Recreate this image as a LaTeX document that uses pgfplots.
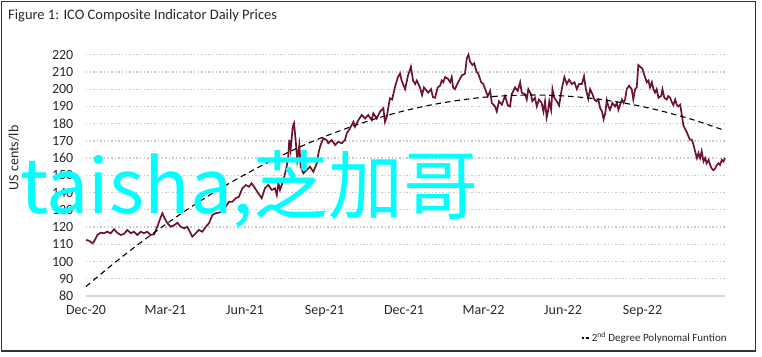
\documentclass[border=0pt]{standalone}
\usepackage{pgfplots}
\pgfplotsset{compat=1.18}
\usepackage{fontspec}
\setmainfont{Carlito}
\newfontfamily\cjk{Noto Sans CJK SC}
\definecolor{coffee}{RGB}{110,18,45}
\definecolor{gridc}{RGB}{200,200,200}
\definecolor{axc}{RGB}{215,215,215}
\definecolor{txt}{RGB}{40,40,40}
\definecolor{wmark}{RGB}{0,255,255}
\begin{document}
\begin{tikzpicture}[x=1pt,y=1pt]
\useasboundingbox (0,0) rectangle (762,356);
\draw[line width=1.5pt, black!80] (1.5,5) rectangle (755.5,354.5);
\node[anchor=base west, inner sep=0pt, text=txt, font=\fontsize{14.5}{17}\selectfont] at (8,336.5) {Figure 1: ICO Composite Indicator Daily Prices};
\begin{axis}[
  at={(86pt,60pt)}, anchor=south west,
  scale only axis, width=639pt, height=241.3pt,
  xmin=0, xmax=24.11, ymin=80, ymax=220,
  clip=false,
  separate axis lines,
  axis x line*=bottom, axis y line*=left,
  x axis line style={draw=axc, line width=1.5pt, -},
  y axis line style={draw=none},
  xtick={0,3,6,9,12,15,18,21},
  xticklabels={Dec-20,Mar-21,Jun-21,Sep-21,Dec-21,Mar-22,Jun-22,Sep-22},
  ytick={80,90,...,220},
  major tick length=0pt,
  ymajorgrids,
  grid style={draw=gridc, line width=1.3pt, dash pattern=on 1.4pt off 2.2pt},
  /pgf/number format/assume math mode=true,
  tick label style={font=\fontsize{14}{16}\selectfont, text=txt},
  yticklabel style={inner sep=0pt, anchor=east, xshift=-12.5pt},
  xticklabel style={inner sep=0pt, anchor=north, yshift=-9.5pt},
  ylabel={US cents/lb},
  ylabel style={at={(axis description cs:-0.113,0.572)}, anchor=center, font=\fontsize{14}{16}\selectfont, text=txt, inner sep=0pt},
  legend style={at={(axis description cs:1.006,-0.174)}, anchor=east, draw=none, fill=none, inner sep=0pt, font=\fontsize{11}{13}\selectfont, text=txt},
  legend cell align=left,
  legend image code/.code={\draw[black, line width=1.3pt, dash pattern=on 2.6pt off 2pt] (0pt,0pt) -- (7.5pt,0pt);},
]
\addplot[color=coffee, line width=1.7pt, forget plot] coordinates {
(0,112.5)(0.11,112.1)(0.24,110.6)(0.30,111.5)(0.43,115.4)(0.55,116.7)(0.68,116.4)(0.80,117.3)(0.93,116.4)(1.06,118.7)(1.18,116.7)(1.31,115.4)(1.43,116)(1.56,118.3)(1.69,116.4)(1.81,117.3)(1.94,115.4)(2.06,117.3)(2.19,116.4)(2.31,117.3)(2.44,115.4)(2.57,115.8)(2.69,120.2)(2.79,124.5)(2.88,128)(2.97,125)(3.07,122.2)(3.20,120.2)(3.32,121)(3.45,122.5)(3.57,120.2)(3.70,119.2)(3.82,120.2)(3.92,117.3)(4.01,114.4)(4.14,116.4)(4.26,118.3)(4.39,117.3)(4.52,120.2)(4.64,122.2)(4.77,127)(4.89,128)(5.02,128.4)(5.14,128.9)(5.27,131.8)(5.40,134.7)(5.52,134.7)(5.65,136.7)(5.77,137.6)(5.90,142.5)(6.03,144.4)(6.15,143.4)(6.25,145.4)(6.38,142.5)(6.50,139.6)(6.63,136.7)(6.75,142.5)(6.88,144.4)(7.01,141.5)(7.13,142.5)(7.20,138.6)(7.26,145.4)(7.32,141.5)(7.45,147.3)(7.57,155)(7.63,160.8)(7.67,170.5)(7.72,164.7)(7.80,178.2)(7.85,180.2)(7.92,168.6)(7.97,158.9)(8.05,167.6)(8.10,155)(8.20,151.2)(8.33,153.1)(8.45,155)(8.58,152.1)(8.71,157)(8.77,162.8)(8.83,166.6)(8.95,171.5)(9.08,170.5)(9.14,168.6)(9.27,170.5)(9.40,167.6)(9.52,169.5)(9.65,168.6)(9.77,170.5)(9.84,174.4)(9.96,177.3)(10.09,181.1)(10.15,178.2)(10.28,182.1)(10.40,185)(10.53,183)(10.65,185)(10.78,182.1)(10.84,186)(10.97,183)(11.09,186.9)(11.22,188.9)(11.28,181)(11.35,184)(11.41,189.8)(11.47,194.7)(11.55,194)(11.66,201.4)(11.77,207)(11.85,209)(11.91,205)(11.96,203)(12.04,200)(12.15,208)(12.26,213)(12.34,205)(12.42,203)(12.48,205)(12.60,201)(12.68,196.6)(12.75,201)(12.86,199)(12.91,198)(13.02,200)(13.09,195.4)(13.17,195)(13.27,201)(13.36,202)(13.42,205)(13.48,204)(13.55,207)(13.66,206)(13.74,204)(13.80,207)(13.85,201)(13.92,200)(14.04,204)(14.18,208)(14.30,209)(14.37,218)(14.43,220)(14.49,216)(14.58,214)(14.65,215)(14.74,210)(14.80,209)(14.91,204)(14.99,203)(15.06,200)(15.16,196)(15.25,199)(15.31,192)(15.43,190)(15.50,187)(15.58,193)(15.69,191)(15.81,196)(15.92,190.5)(16.00,190)(16.06,197)(16.19,201)(16.29,199)(16.38,204)(16.44,198)(16.57,197)(16.63,194)(16.69,200)(16.79,197)(16.84,193)(16.94,195)(17.01,190)(17.09,194)(17.19,192)(17.26,187)(17.32,193)(17.38,183.5)(17.43,187)(17.48,193)(17.55,188)(17.60,200)(17.67,195)(17.76,193)(17.85,190.5)(17.95,200)(18.05,207)(18.14,203)(18.23,205.5)(18.33,203)(18.43,204)(18.52,200)(18.60,203)(18.71,203)(18.79,207.5)(18.86,200)(18.95,194.5)(19.02,200)(19.11,197)(19.18,194)(19.25,193)(19.33,194)(19.40,189)(19.47,187)(19.53,182.6)(19.59,186)(19.65,193.5)(19.71,190)(19.77,188)(19.86,192)(19.96,190)(20.03,192)(20.09,188)(20.22,194)(20.28,192)(20.34,194)(20.40,200)(20.49,202)(20.59,200)(20.65,194)(20.72,200)(20.78,201)(20.84,214)(20.91,213)(20.99,212)(21.07,208)(21.16,204)(21.22,205)(21.28,201)(21.35,204)(21.41,200)(21.47,198)(21.53,200)(21.60,195)(21.70,196)(21.75,200)(21.82,195)(21.91,194)(21.97,196)(22.04,195)(22.10,192.6)(22.16,190.7)(22.23,194)(22.29,191)(22.35,190)(22.42,191)(22.48,185)(22.54,179)(22.60,177)(22.67,175)(22.73,172.6)(22.79,170.6)(22.86,170.6)(22.92,167.7)(22.98,164)(23.05,160)(23.11,163)(23.17,160)(23.23,164)(23.30,158)(23.36,160)(23.42,157)(23.49,159)(23.55,156)(23.61,154)(23.67,153)(23.74,154)(23.80,156)(23.86,157)(23.92,156)(23.99,159)(24.05,158)(24.11,160)
};
\addplot[black, line width=1.1pt, dash pattern=on 5.5pt off 4pt, smooth] coordinates {
(0,85.5)(1,98.3)(2,110.3)(3,121.5)(4,132.0)(5,141.7)(6,150.5)(7,158.6)(8,166.0)(9,172.5)(10,178.2)(11,183.2)(12,187.4)(13,190.8)(14,193.4)(15,195.3)(16,196.3)(17,196.6)(18,196.1)(19,194.8)(20,192.7)(21,189.9)(22,186.2)(23,181.8)(24,176.6)(24.11,176.0)
};
\addlegendentry{2\textsuperscript{nd} Degree Polynomal Funtion}
\end{axis}
\node[anchor=base west, inner sep=0pt, text=wmark, font=\cjk\fontsize{75}{80}\selectfont] at (20,142) {taisha,芝加哥};
\end{tikzpicture}
\end{document}
